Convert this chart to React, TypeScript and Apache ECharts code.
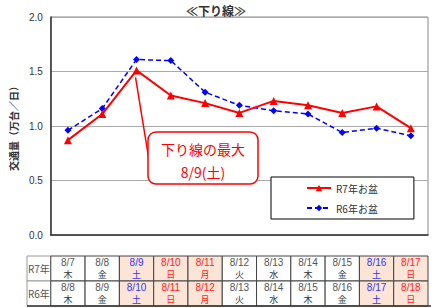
import React, { useEffect, useRef } from "react";
import * as echarts from "echarts";

const categories = ["8/7", "8/8", "8/9", "8/10", "8/11", "8/12", "8/13", "8/14", "8/15", "8/16", "8/17"];
const r7Dates = ["8/7", "8/8", "8/9", "8/10", "8/11", "8/12", "8/13", "8/14", "8/15", "8/16", "8/17"];
const r6Dates = ["8/8", "8/9", "8/10", "8/11", "8/12", "8/13", "8/14", "8/15", "8/16", "8/17", "8/18"];
const weekdays = ["木", "金", "土", "日", "月", "火", "水", "木", "金", "土", "日"];
// 0 normal, 1 saturday, 2 sunday/holiday
const dayKind = [0, 0, 1, 2, 2, 0, 0, 0, 0, 1, 2];
const r7Values = [0.87, 1.11, 1.51, 1.28, 1.21, 1.12, 1.23, 1.19, 1.12, 1.18, 0.98];
const r6Values = [0.96, 1.16, 1.61, 1.6, 1.31, 1.19, 1.14, 1.11, 0.94, 0.98, 0.91];
const yTicks = [0, 0.5, 1.0, 1.5, 2.0];

const FONT = "'Noto Sans CJK JP', 'Noto Sans', sans-serif";
const NUMFONT = "'Liberation Sans', Arial, sans-serif";

export default function App() {
  const ref = useRef<HTMLDivElement>(null);
  useEffect(() => {
    if (!ref.current) return;
    const chart = echarts.init(ref.current, null, { renderer: "svg" });
    chart.setOption({
      animation: false,
      textStyle: { fontFamily: FONT },
      title: {
        text: "≪下り線≫",
        left: "center",
        top: -1,
        textStyle: { fontSize: 12, fontWeight: "bold", color: "#333", fontFamily: FONT },
      },
      grid: { left: 48, right: 4, top: 17, bottom: 73, show: true, borderColor: "#888", borderWidth: 1 },
      xAxis: {
        type: "category",
        data: categories,
        boundaryGap: true,
        axisLabel: { show: false },
        axisTick: { show: false },
        axisLine: { lineStyle: { color: "#333", width: 1.5 } },
      },
      yAxis: {
        type: "value",
        min: yTicks[0],
        max: yTicks[yTicks.length - 1],
        interval: 0.5,
        name: "交通量（万台／日）",
        nameLocation: "middle",
        nameGap: 32,
        nameRotate: 90,
        nameTextStyle: { fontSize: 10, color: "#333", fontWeight: "bold", fontFamily: FONT },
        axisLabel: { formatter: (v: number) => v.toFixed(1), fontSize: 10, color: "#333", margin: 8, fontFamily: NUMFONT },
        axisLine: { show: true, lineStyle: { color: "#333", width: 1.5 } },
        axisTick: { show: false },
        splitLine: { lineStyle: { color: "#aaa", width: 1 } },
      },
      legend: {
        orient: "vertical",
        left: 271,
        top: 177,
        padding: [6, 36, 6, 35],
        itemGap: 10,
        itemWidth: 24,
        itemHeight: 8,
        borderColor: "#000",
        borderWidth: 1,
        backgroundColor: "#fff",
        textStyle: { fontSize: 10, color: "#333", fontFamily: FONT },
        data: ["R7年お盆", "R6年お盆"],
      },
      series: [
        {
          name: "R6年お盆",
          type: "line",
          data: r6Values,
          symbol: "diamond",
          symbolSize: 7,
          lineStyle: { color: "#0000ff", width: 1.5, type: [5, 3] },
          itemStyle: { color: "#0000ff" },
          z: 2,
        },
        {
          name: "R7年お盆",
          type: "line",
          data: r7Values,
          symbol: "triangle",
          symbolSize: 8,
          lineStyle: { color: "#ff0000", width: 2 },
          itemStyle: { color: "#ff0000" },
          z: 3,
        },
      ],
    });

    const c0 = chart.convertToPixel({ gridIndex: 0 }, [0, 0]) as number[];
    const c1 = chart.convertToPixel({ gridIndex: 0 }, [1, 0]) as number[];
    const bw = c1[0] - c0[0];
    const plotLeft = c0[0] - bw / 2;
    const peak = chart.convertToPixel({ gridIndex: 0 }, [2, r7Values[2]]) as number[];

    const tableTop = 256;
    const rowH = 25;
    const headLeft = 27;
    const els: any[] = [];
    const kindBg = ["#ffffff", "#fce4d6", "#fce4d6"];
    const kindColor = ["#555", "#3333ff", "#ff2222"];
    const rows = [
      { label: "R7年", dates: r7Dates },
      { label: "R6年", dates: r6Dates },
    ];
    rows.forEach((row, ri) => {
      const y = tableTop + ri * rowH;
      els.push({
        type: "rect",
        shape: { x: headLeft, y, width: plotLeft - headLeft, height: rowH },
        style: { fill: "#fff", stroke: "#999", lineWidth: 1 },
      });
      els.push({
        type: "text",
        x: (headLeft + plotLeft) / 2,
        y: y + rowH / 2,
        style: { text: row.label, fontSize: 10, fill: "#555", align: "center", verticalAlign: "middle", fontFamily: FONT },
      });
      row.dates.forEach((d, i) => {
        const cx = (chart.convertToPixel({ gridIndex: 0 }, [i, 0]) as number[])[0];
        const k = dayKind[i];
        const col = kindColor[k];
        els.push({
          type: "rect",
          shape: { x: cx - bw / 2, y, width: bw, height: rowH },
          style: { fill: kindBg[k], stroke: "#444", lineWidth: 1 },
        });
        els.push({
          type: "text",
          x: cx,
          y: y + 6,
          style: { text: d, fontSize: 10, fill: col, align: "center", verticalAlign: "middle", fontFamily: NUMFONT },
        });
        els.push({
          type: "text",
          x: cx,
          y: y + 18.6,
          style: { text: weekdays[i], fontSize: 9, fill: k === 0 ? "#333" : col, align: "center", verticalAlign: "middle", fontFamily: FONT },
        });
      });
    });
    els.push({
      type: "line",
      shape: { x1: headLeft, y1: tableTop + 2 * rowH, x2: 431, y2: tableTop + 2 * rowH },
      style: { stroke: "#333", lineWidth: 1.5 },
    });

    // annotation callout
    els.push({
      type: "line",
      shape: { x1: peak[0] - 1, y1: peak[1] + 7, x2: 149, y2: 160 },
      style: { stroke: "#ff0000", lineWidth: 1.5 },
      z: 10,
    });
    els.push({
      type: "rect",
      shape: { x: 148, y: 132, width: 110, height: 52, r: 8 },
      style: { fill: "#fff", stroke: "#ff0000", lineWidth: 1.5 },
      z: 11,
    });
    els.push({
      type: "text",
      x: 203,
      y: 149,
      style: { text: "下り線の最大", fontSize: 14, fill: "#ff0000", align: "center", verticalAlign: "middle", fontFamily: FONT },
      z: 12,
    });
    els.push({
      type: "text",
      x: 203,
      y: 172,
      style: { text: "8/9(土)", fontSize: 14, fill: "#ff0000", align: "center", verticalAlign: "middle", fontFamily: FONT },
      z: 12,
    });

    chart.setOption({ graphic: els });
    return () => chart.dispose();
  }, []);
  return <div ref={ref} style={{ width: 432, height: 308, position: "absolute", left: 0, top: 0 }} />;
}
